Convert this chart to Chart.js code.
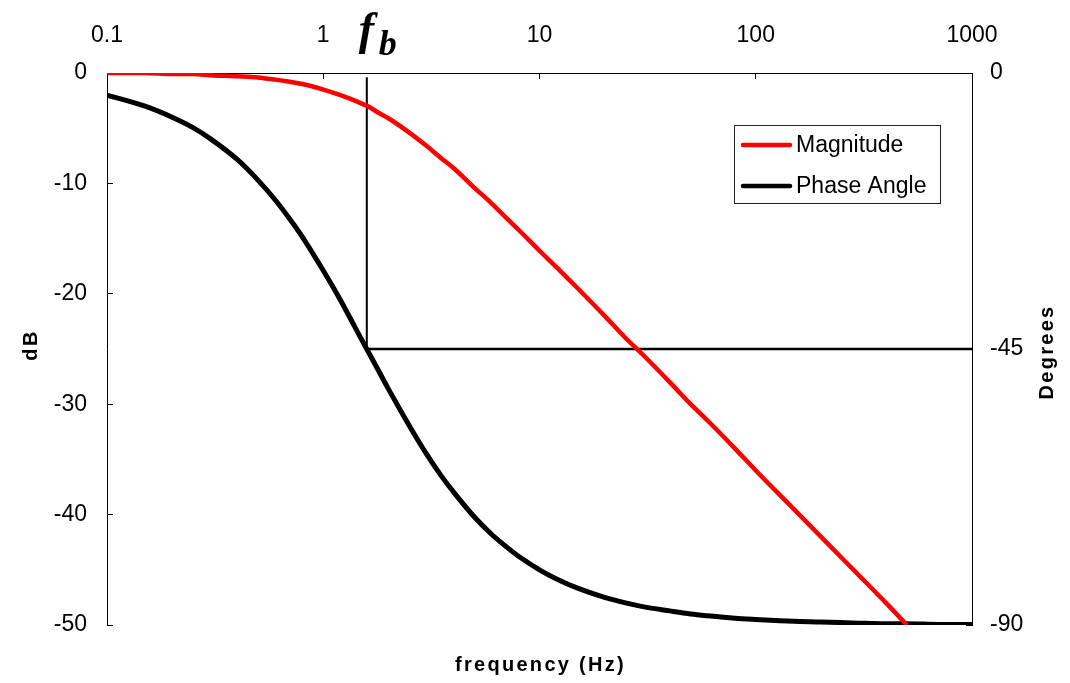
<!DOCTYPE html>
<html>
<head>
<meta charset="utf-8">
<title>Bode plot</title>
<script src="https://cdn.jsdelivr.net/npm/chart.js@4/dist/chart.umd.min.js"></script>
<style>
    body { margin: 0; background: #fff; }
    #bode { display: block; }
</style>
</head>
<body>
<canvas id="bode" width="1070" height="683"></canvas>
<script>
// Frequencies (Hz)
const freq = [0.1, 0.15, 0.2, 0.25, 0.3, 0.4, 0.5, 0.6, 0.7, 0.8, 1, 1.2, 1.4, 1.6, 1.8, 2,
    2.5, 3, 3.5, 4, 5, 6, 7, 8, 10, 12, 15, 20, 25, 30, 40, 50, 60, 80, 100,
    150, 200, 300, 400, 500, 700, 1000];

// Magnitude (dB), left axis
const magnitude = [0, 0, -0.1, -0.1, -0.2, -0.3, -0.4, -0.6, -0.8, -1.0, -1.5, -2.0, -2.5, -3.0, -3.6, -4.1,
    -5.4, -6.6, -7.7, -8.6, -10.4, -11.8, -13.1, -14.2, -16.1, -17.6, -19.5, -22.0, -24.0, -25.5, -28.0, -30.0, -31.5, -34.0, -36.0,
    -39.5, -42.0, -45.5, -48.0, -50.0, null, null];

// Phase angle (degrees), right axis
const phase = [-3.6, -5.4, -7.2, -8.9, -10.7, -14.1, -17.5, -20.7, -23.8, -26.7, -32.2, -37.0, -41.4, -45.2, -48.5, -51.5,
    -57.5, -62.1, -65.6, -68.3, -72.4, -75.2, -77.2, -78.8, -81.0, -82.5, -84.0, -85.5, -86.4, -87.0, -87.7, -88.2, -88.5, -88.9, -89.1,
    -89.4, -89.5, -89.7, -89.8, -89.8, -89.9, -89.9];

// Break frequency and its guide lines
const fb = 1.59;
const fbVertical = [-0.7, -45];   // degrees
const fbHorizontalX = [fb, 1000]; // Hz, at -45 degrees

// Tick labels
const xTicks = [0.1, 1, 10, 100, 1000];
const dbTicks = [0, -10, -20, -30, -40, -50];
const degTicks = [0, -45, -90];

const tickFont = { family: 'Liberation Sans, Arial, sans-serif', size: 23 };

/**
 * Build {x, y} points, skipping empty values
 */
function toPoints(xs, ys) {
    const pts = [];
    xs.forEach((x, i) => {
        if (ys[i] !== null) pts.push({ x: x, y: ys[i] });
    });
    return pts;
}

/**
 * Axis titles, legend box and the f_b label
 */
const bodeExtras = {
    id: 'bodeExtras',
    afterDraw(chart) {
        const ctx = chart.ctx;
        const area = chart.chartArea;
        const xScale = chart.scales.x;
        const midY = (area.top + area.bottom) / 2;

        ctx.save();
        ctx.fillStyle = '#000';
        ctx.textAlign = 'center';
        ctx.textBaseline = 'middle';
        ctx.font = 'bold 20px "Liberation Sans", Arial, sans-serif';
        ctx.letterSpacing = '2.3px';

        ctx.fillText('frequency (Hz)', (area.left + area.right) / 2 + 1, 665);

        ctx.save();
        ctx.translate(31, midY - 4);
        ctx.rotate(-Math.PI / 2);
        ctx.fillText('dB', 0, 0);
        ctx.restore();

        ctx.save();
        ctx.translate(1047, midY + 3);
        ctx.rotate(-Math.PI / 2);
        ctx.fillText('Degrees', 0, 0);
        ctx.restore();

        ctx.letterSpacing = '0px';

        // f_b label above the break frequency
        const fx = xScale.getPixelForValue(fb);
        ctx.textAlign = 'left';
        ctx.textBaseline = 'alphabetic';
        ctx.font = 'italic bold 46px "Liberation Serif", "Times New Roman", serif';
        ctx.fillText('f', fx - 8, 44);
        ctx.font = 'italic bold 36px "Liberation Serif", "Times New Roman", serif';
        ctx.fillText('b', fx + 12, 55);

        // Legend box
        const bx = area.right - 238;
        const by = area.top + 52;
        ctx.lineWidth = 1;
        ctx.strokeStyle = '#222';
        ctx.strokeRect(bx + 0.5, by + 0.5, 206, 78);

        const items = [
            { label: 'Magnitude', color: '#ff0000', y: by + 20 },
            { label: 'Phase Angle', color: '#000000', y: by + 61 }
        ];
        ctx.font = '23px "Liberation Sans", Arial, sans-serif';
        ctx.textBaseline = 'middle';
        items.forEach(item => {
            ctx.beginPath();
            ctx.strokeStyle = item.color;
            ctx.lineWidth = 4.5;
            ctx.lineCap = 'round';
            ctx.moveTo(bx + 9, item.y);
            ctx.lineTo(bx + 56, item.y);
            ctx.stroke();
            ctx.fillStyle = '#000';
            ctx.fillText(item.label, bx + 62, item.y + 1);
        });
        ctx.restore();
    }
};

new Chart(document.getElementById('bode').getContext('2d'), {
    type: 'line',
    data: {
        datasets: [
            {
                label: 'Magnitude',
                data: toPoints(freq, magnitude),
                yAxisID: 'y',
                borderColor: '#ff0000',
                borderWidth: 4.5,
                pointRadius: 0,
                cubicInterpolationMode: 'monotone',
                order: 1
            },
            {
                label: 'Phase Angle',
                data: toPoints(freq, phase),
                yAxisID: 'y2',
                borderColor: '#000000',
                borderWidth: 5,
                pointRadius: 0,
                cubicInterpolationMode: 'monotone',
                order: 2
            },
            {
                label: 'fb vertical',
                data: fbVertical.map(v => ({ x: fb, y: v })),
                yAxisID: 'y2',
                borderColor: '#000000',
                borderWidth: 2,
                pointRadius: 0,
                order: 3
            },
            {
                label: 'fb horizontal',
                data: fbHorizontalX.map(x => ({ x: x, y: -45 })),
                yAxisID: 'y2',
                borderColor: '#000000',
                borderWidth: 2.5,
                pointRadius: 0,
                order: 3
            }
        ]
    },
    options: {
        responsive: false,
        animation: false,
        layout: { padding: { bottom: 58 } },
        plugins: {
            legend: { display: false },
            tooltip: { enabled: false }
        },
        scales: {
            x: {
                type: 'logarithmic',
                position: 'top',
                min: 0.1,
                max: 1000,
                afterBuildTicks: scale => { scale.ticks = xTicks.map(v => ({ value: v })); },
                afterFit: scale => { scale.height = 73; },
                ticks: {
                    font: tickFont,
                    color: '#000',
                    padding: 30,
                    maxRotation: 0,
                    autoSkip: false,
                    callback: value => String(value)
                },
                grid: { drawOnChartArea: false, tickLength: -6, color: '#000' },
                border: { color: '#000', width: 1 }
            },
            y: {
                position: 'left',
                min: -50,
                max: 0,
                afterBuildTicks: scale => { scale.ticks = dbTicks.map(v => ({ value: v })); },
                afterFit: scale => { scale.width = 107; },
                ticks: { font: tickFont, color: '#000', padding: 26 },
                grid: { drawOnChartArea: false, tickLength: -6, color: '#000' },
                border: { color: '#000', width: 1 }
            },
            y2: {
                position: 'right',
                min: -90,
                max: 0,
                afterBuildTicks: scale => { scale.ticks = degTicks.map(v => ({ value: v })); },
                afterFit: scale => { scale.width = 98; },
                ticks: { font: tickFont, color: '#000', padding: 24 },
                grid: { drawOnChartArea: false, tickLength: -6, color: '#000' },
                border: { color: '#000', width: 1 }
            }
        }
    },
    plugins: [bodeExtras]
});
</script>
</body>
</html>
